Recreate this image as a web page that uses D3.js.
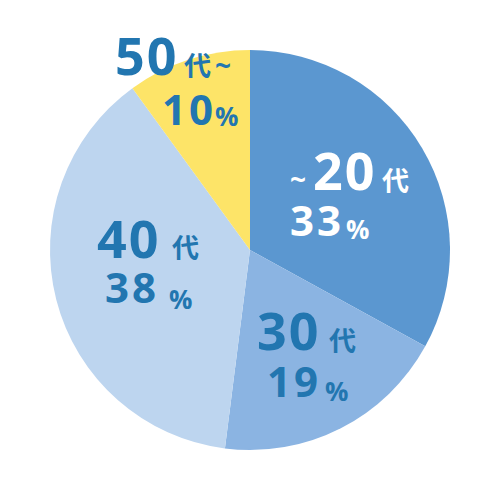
<!DOCTYPE html>
<html>
<head>
<meta charset="utf-8">
<script src="https://cdn.jsdelivr.net/npm/d3@7"></script>
<style>
  body { margin: 0; background: #fff; }
  text { font-family: "Open Sans", "Noto Sans CJK JP", sans-serif; font-weight: 700; }
</style>
</head>
<body>
<div id="vis"></div>
<script>
const categories = ["~20代", "30代", "40代", "50代~"];
const ages = ["20", "30", "40", "50"];
const percents = [33, 19, 38, 10];
const colors = ["#5b97d0", "#8bb4e2", "#bdd5ef", "#fde468"];

const width = 500, height = 500;
const cx = 250, cy = 250, radius = 200;
const dark = "#2276b0";

const svg = d3.select("#vis")
  .append("svg")
  .attr("width", width)
  .attr("height", height);

const g = svg.append("g")
  .attr("transform", `translate(${cx},${cy})`);

const pie = d3.pie().sort(null).value(d => d);
const arc = d3.arc().innerRadius(0).outerRadius(radius);

g.selectAll("path")
  .data(pie(percents))
  .enter()
  .append("path")
  .attr("d", arc)
  .attr("fill", (d, i) => colors[i]);

// label layout (baseline positions per part), text comes from the arrays above
const layout = [
  { fill: "#fff", lines: [
    [{ t: "~", x: 290, y: 190, s: 28 }, { t: ages[0], x: 313, y: 190, s: 52, ls: 2 }, { t: "代", x: 382, y: 191, s: 27 }],
    [{ t: percents[0], x: 290, y: 236, s: 42, ls: 3 }, { t: "%", x: 346, y: 239, s: 26 }]
  ]},
  { fill: dark, lines: [
    [{ t: ages[1], x: 257, y: 350, s: 52, ls: 2 }, { t: "代", x: 329, y: 351, s: 27 }],
    [{ t: percents[1], x: 267, y: 397, s: 42, ls: 3 }, { t: "%", x: 325, y: 401, s: 26 }]
  ]},
  { fill: dark, lines: [
    [{ t: ages[2], x: 97, y: 258, s: 52, ls: 2 }, { t: "代", x: 172, y: 258, s: 27 }],
    [{ t: percents[2], x: 105, y: 303, s: 42, ls: 3 }, { t: "%", x: 169, y: 309, s: 26 }]
  ]},
  { fill: dark, lines: [
    [{ t: ages[3], x: 115, y: 75, s: 52, ls: 2 }, { t: "代", x: 184, y: 76, s: 27 }, { t: "~", x: 215, y: 76, s: 28 }],
    [{ t: percents[3], x: 162, y: 125, s: 42, ls: 3 }, { t: "%", x: 215, y: 126, s: 26 }]
  ]}
];

layout.forEach((lab, i) => {
  lab.lines.forEach(line => {
    const txt = svg.append("text")
      .attr("class", "label")
      .attr("fill", lab.fill)
      .attr("data-category", categories[i]);
    line.forEach(p => {
      txt.append("tspan")
        .attr("x", p.x)
        .attr("y", p.y)
        .attr("font-size", p.s + "px")
        .attr("letter-spacing", (p.ls || 0) + "px")
        .text(p.t);
    });
  });
});
</script>
</body>
</html>
